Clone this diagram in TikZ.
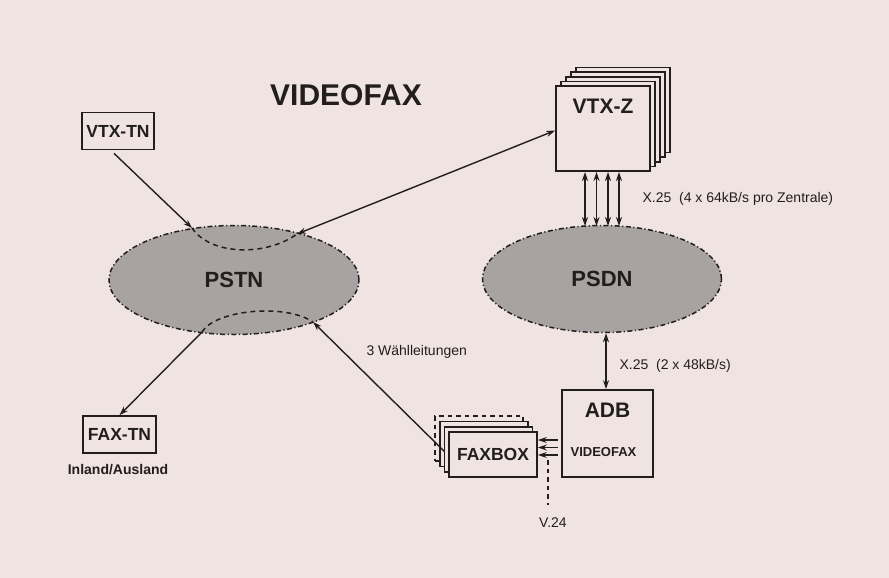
\documentclass[tikz,border=0pt]{standalone}
\usepackage{fontspec}
\setmainfont{Liberation Sans}
\usetikzlibrary{arrows.meta,positioning,shapes.geometric,calc}
\definecolor{faxPaper}{RGB}{240,228,226}
\definecolor{faxNet}{RGB}{168,162,163}
\definecolor{faxInk}{RGB}{34,30,30}

\begin{document}
\begin{tikzpicture}[x=1pt,y=-1pt,
  >={Stealth[length=9pt,width=6pt]},
  box/.style={draw=faxInk, line width=1.7pt, fill=faxPaper, inner sep=0pt},
  net/.style={ellipse, draw=faxInk, fill=faxNet, line width=1.5pt,
    dash pattern=on 5pt off 2.5pt on 1.2pt off 2.5pt, inner sep=0pt},
  link/.style={draw=faxInk, line width=1.4pt},
  arc/.style={draw=faxInk, line width=1.5pt, dash pattern=on 5pt off 4pt},
  big/.style={font=\bfseries\fontsize{21}{24}\selectfont, text=faxInk},
  mid/.style={font=\bfseries\fontsize{17.5}{20}\selectfont, text=faxInk},
  lbl/.style={font=\fontsize{14}{16}\selectfont, text=faxInk}]
\fill[faxPaper] (0,0) rectangle (889,578);
\useasboundingbox (0,0) rectangle (889,578);

\node[font=\bfseries\fontsize{30}{34}\selectfont, text=faxInk] (title) at (346,95) {VIDEOFAX};

% networks
\node[net, minimum width=250, minimum height=109] (pstn) at (234,280) {};
\node[big, font=\bfseries\fontsize{22}{25}\selectfont] at (pstn.center) {PSTN};
\node[net, minimum width=239, minimum height=107] (psdn) at (602,279) {};
\node[big, font=\bfseries\fontsize{22}{25}\selectfont] at (psdn.center) {PSDN};

\coordinate (pstnA) at (192,228);
\coordinate (pstnB) at (297,234);
\coordinate (pstnC) at (202,332);
\coordinate (pstnD) at (313,322);
\draw[arc] (pstnA) .. controls (210,255) and (265,257) .. (pstnB);
\draw[arc] (pstnC) .. controls (215,310) and (285,303) .. (pstnD);

% subscribers
\node[box, mid, minimum width=72, minimum height=37] (vtxtn) at (118,131) {VTX-TN};
\node[box, mid, minimum width=73, minimum height=37] (faxtn) at (119.5,434.5) {FAX-TN};
\node[lbl, font=\bfseries\fontsize{14}{16}\selectfont] (inland) at (118,470) {Inland/Ausland};

% VTX-Z stack
\foreach \k in {4,3,2,1}
  \node[box, minimum width=94, minimum height=85] (vtxz\k) at ({603+5*\k},{128.5-4.6*\k}) {};
\node[box, minimum width=94, minimum height=85] (vtxz) at (603,128.5) {};
\node[big] at ([yshift=-21pt]vtxz.north) {VTX-Z};

% ADB
\node[box, minimum width=91, minimum height=87] (adb) at (607.5,433.5) {};
\node[big] at ([yshift=-21pt]adb.north) {ADB};
\node[font=\bfseries\fontsize{13}{15}\selectfont, text=faxInk] at ([xshift=-4pt,yshift=26pt]adb.south) {VIDEOFAX};

% FAXBOX stack
\node[box, fill=none, dash pattern=on 4.5pt off 4pt, minimum width=88, minimum height=45] (faxbox3) at (479,438.5) {};
\node[box, minimum width=88, minimum height=45] (faxbox2) at (483.7,444) {};
\coordinate (faxin) at (445,452);
\draw[link, ->] (faxin) -- (pstnD);
\node[box, minimum width=88, minimum height=45] (faxbox1) at (488.4,449.5) {};
\node[box, mid, minimum width=88, minimum height=45] (faxbox) at (493,454.5) {FAXBOX};

% connections
\draw[link, ->] ([xshift=-4pt,yshift=-3pt]vtxtn.south) -- (pstnA);
\draw[link, <->] (pstnB) -- ([yshift=-2pt]vtxz.west);
\draw[link, ->] (pstnC) -- (faxtn.north);
\foreach \x in {585,596.5,608,619}
  \draw[link, <->] (\x,172) -- (\x,226);
\draw[link, <->] (psdn.south -| 606,0) -- (adb.north -| 606,0);
\foreach \y in {440,447.5,455}
  \draw[link, ->] ([xshift=-3.5pt]adb.west |- 0,\y) -- (faxbox.east |- 0,\y);

\node[lbl] (v24) at (553,523) {V.24};
\coordinate (v24top) at (548,460);
\draw[link, dash pattern=on 4.5pt off 4pt] (v24top) -- (v24top |- 0,505);

% labels
\node[lbl, anchor=west] (x25z) at (639,199) {X.25\ \ (4 x 64kB/s pro Zentrale)};
\node[lbl, anchor=west] (x25a) at (616,366) {X.25\ \ (2 x 48kB/s)};
\node[lbl, anchor=west] (wahl) at (363,352) {3 Wählleitungen};
\end{tikzpicture}
\end{document}
